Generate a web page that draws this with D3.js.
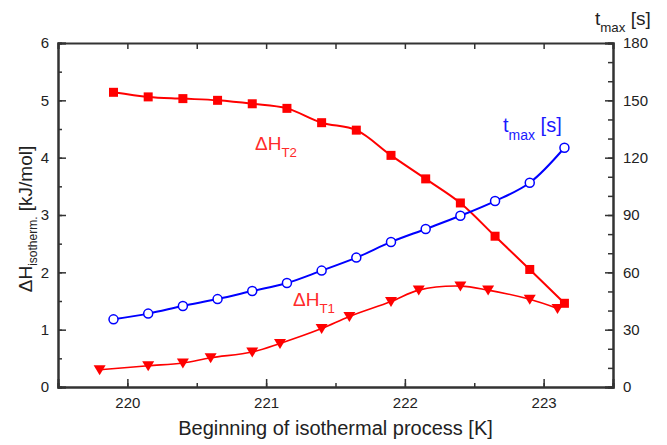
<!DOCTYPE html>
<html>
<head>
<meta charset="utf-8">
<script src="https://cdn.jsdelivr.net/npm/d3@7"></script>
<style>
  body { margin: 0; background: #fff; }
  svg { font-family: "Liberation Sans", Arial, sans-serif; }
</style>
</head>
<body>
<div id="chart"></div>
<script>
// temperatures (K) at which each isothermal run began
let tempT2 = [219.9, 220.15, 220.4, 220.65, 220.9, 221.15, 221.4, 221.65, 221.9, 222.15, 222.4, 222.65, 222.9, 223.15];
let dhT2 = [5.14, 5.06, 5.03, 5.0, 4.94, 4.86, 4.61, 4.48, 4.04, 3.63, 3.21, 2.63, 2.05, 1.46];

let tempTmax = [219.9, 220.15, 220.4, 220.65, 220.9, 221.15, 221.4, 221.65, 221.9, 222.15, 222.4, 222.65, 222.9, 223.15];
let tmax = [35.4, 38.4, 42.4, 46.0, 50.2, 54.4, 60.9, 67.7, 75.9, 82.7, 89.6, 97.3, 106.9, 125.2];

let tempT1 = [219.8, 220.15, 220.4, 220.6, 220.9, 221.1, 221.4, 221.6, 221.9, 222.1, 222.4, 222.6, 222.9, 223.1];
let dhT1 = [0.30, 0.37, 0.42, 0.51, 0.61, 0.76, 1.02, 1.23, 1.49, 1.69, 1.76, 1.69, 1.53, 1.37];

let xTicks = [220, 221, 222, 223];
let yLeftTicks = [0, 1, 2, 3, 4, 5, 6];
let yRightTicks = [0, 30, 60, 90, 120, 150, 180];

let svgWidth = 667;
let svgHeight = 445;

let margin = { top: 43, right: 54, bottom: 58, left: 58 };
let chartWidth = svgWidth - margin.left - margin.right;
let chartHeight = svgHeight - margin.top - margin.bottom;

let axisColor = "#333";
let red = "#ff0000";
let blue = "#0000ff";

let x = d3.scaleLinear().domain([219.5, 223.5]).range([0, chartWidth]);
let yLeft = d3.scaleLinear().domain([0, 6]).range([chartHeight, 0]);
let yRight = d3.scaleLinear().domain([0, 180]).range([chartHeight, 0]);

let svg = d3.select("#chart")
  .append("svg")
  .attr("width", svgWidth)
  .attr("height", svgHeight);

let g = svg.append("g")
  .attr("transform", "translate(" + margin.left + "," + margin.top + ")");

function styleAxis(sel) {
  sel.select(".domain").attr("stroke", axisColor).attr("stroke-width", 2);
  sel.selectAll(".tick line").attr("stroke", axisColor).attr("stroke-width", 1.5);
  sel.selectAll(".tick text")
    .attr("fill", "#222")
    .style("font-size", "15px")
    .style("font-family", "Liberation Sans, Arial, sans-serif");
}

let xMinor = d3.range(219.5, 223.51, 0.5);
let yLeftMinor = d3.range(0, 6.01, 0.5);
let yRightMinor = d3.range(0, 180.1, 10);

// bottom: minor ticks, then major ticks with labels
g.append("g")
  .attr("transform", "translate(0," + chartHeight + ")")
  .call(d3.axisBottom(x).tickValues(xMinor).tickSize(-4).tickFormat(""))
  .call(styleAxis);
g.append("g")
  .attr("transform", "translate(0," + chartHeight + ")")
  .call(d3.axisBottom(x).tickValues(xTicks).tickSize(-8).tickPadding(10).tickFormat(d3.format("d")))
  .call(styleAxis);

// top
g.append("g")
  .call(d3.axisTop(x).tickValues(xMinor).tickSize(-6).tickFormat(""))
  .call(styleAxis);

// left
g.append("g")
  .call(d3.axisLeft(yLeft).tickValues(yLeftMinor).tickSize(-4).tickFormat(""))
  .call(styleAxis);
g.append("g")
  .call(d3.axisLeft(yLeft).tickValues(yLeftTicks).tickSize(-8).tickPadding(9).tickFormat(d3.format("d")))
  .call(styleAxis);

// right
g.append("g")
  .attr("transform", "translate(" + chartWidth + ",0)")
  .call(d3.axisRight(yRight).tickValues(yRightMinor).tickSize(-5).tickFormat(""))
  .call(styleAxis);
g.append("g")
  .attr("transform", "translate(" + chartWidth + ",0)")
  .call(d3.axisRight(yRight).tickValues(yRightTicks).tickSize(-8).tickPadding(10).tickFormat(d3.format("d")))
  .call(styleAxis);

// series
let t2Data = tempT2.map((t, i) => ({ x: t, y: dhT2[i] }));
let tmaxData = tempTmax.map((t, i) => ({ x: t, y: tmax[i] }));
let t1Data = tempT1.map((t, i) => ({ x: t, y: dhT1[i] }));

let lineLeft = d3.line()
  .x(d => x(d.x))
  .y(d => yLeft(d.y))
  .curve(d3.curveCatmullRom.alpha(0.5));

let lineRight = d3.line()
  .x(d => x(d.x))
  .y(d => yRight(d.y))
  .curve(d3.curveCatmullRom.alpha(0.5));

// ΔH_T1 (triangles)
g.append("path")
  .datum(t1Data)
  .attr("fill", "none")
  .attr("stroke", red)
  .attr("stroke-width", 1.6)
  .attr("d", lineLeft);

g.selectAll(".tri")
  .data(t1Data)
  .enter()
  .append("path")
    .attr("class", "tri")
    .attr("fill", red)
    .attr("d", d => {
      let cx = x(d.x), cy = yLeft(d.y);
      return "M" + (cx - 6) + "," + (cy - 4.5) + "L" + (cx + 6) + "," + (cy - 4.5) + "L" + cx + "," + (cy + 5.5) + "Z";
    });

// ΔH_T2 (squares)
g.append("path")
  .datum(t2Data)
  .attr("fill", "none")
  .attr("stroke", red)
  .attr("stroke-width", 2)
  .attr("d", lineLeft);

g.selectAll(".sq")
  .data(t2Data)
  .enter()
  .append("rect")
    .attr("class", "sq")
    .attr("fill", red)
    .attr("x", d => x(d.x) - 4.5)
    .attr("y", d => yLeft(d.y) - 4.5)
    .attr("width", 9)
    .attr("height", 9);

// t_max (open circles)
g.append("path")
  .datum(tmaxData)
  .attr("fill", "none")
  .attr("stroke", blue)
  .attr("stroke-width", 2)
  .attr("d", lineRight);

g.selectAll(".circ")
  .data(tmaxData)
  .enter()
  .append("circle")
    .attr("class", "circ")
    .attr("fill", "#fff")
    .attr("stroke", blue)
    .attr("stroke-width", 1.5)
    .attr("cx", d => x(d.x))
    .attr("cy", d => yRight(d.y))
    .attr("r", 4.5);

// in-plot labels
function subLabel(parent, px, py, main, sub, tail, color, size) {
  let t = parent.append("text")
    .attr("x", px)
    .attr("y", py)
    .attr("fill", color)
    .style("font-size", size + "px");
  t.append("tspan").text(main);
  t.append("tspan")
    .attr("dy", size * 0.38)
    .style("font-size", (size * 0.7) + "px")
    .text(sub);
  if (tail) {
    t.append("tspan")
      .attr("dy", -size * 0.38)
      .text(tail);
  }
  return t;
}

subLabel(svg, 255, 150, "\u0394H", "T2", null, "#ff2a2a", 19);
subLabel(svg, 293, 306, "\u0394H", "T1", null, "#ff2a2a", 19);
subLabel(svg, 503, 132, "t", "max", " [s]", "#1a1aff", 20);
subLabel(svg, 595, 25, "t", "max", " [s]", "#222", 19);

// axis titles
svg.append("text")
  .attr("x", margin.left + chartWidth / 2)
  .attr("y", 435)
  .attr("text-anchor", "middle")
  .attr("fill", "#222")
  .style("font-size", "20px")
  .text("Beginning of isothermal process [K]");

let yTitle = svg.append("text")
  .attr("transform", "translate(32," + (margin.top + chartHeight / 2 + 4) + ") rotate(-90)")
  .attr("text-anchor", "middle")
  .attr("fill", "#222")
  .style("font-size", "19px");
yTitle.append("tspan").text("\u0394H");
yTitle.append("tspan").attr("dy", 5).style("font-size", "12px").text("isotherm.");
yTitle.append("tspan").attr("dy", -5).text(" [kJ/mol]");
</script>
</body>
</html>
